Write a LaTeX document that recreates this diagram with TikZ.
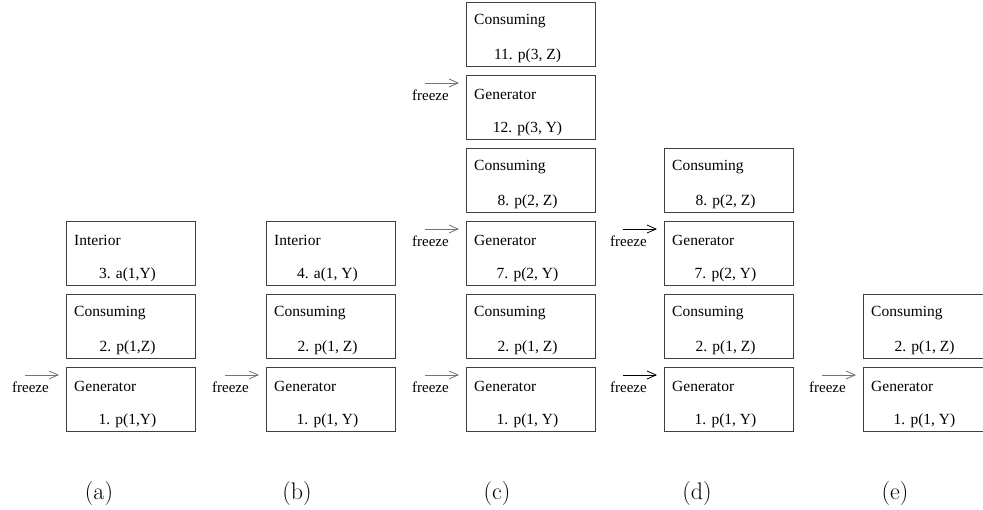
\documentclass[tikz,border=0pt]{standalone}
\usepackage{fontspec}
\newfontfamily\tms{Liberation Serif}
\usetikzlibrary{positioning,arrows.meta}

\tikzset{
	blk/.style={draw=black!75, line width=0.9pt, minimum width=129pt, minimum height=64pt, inner sep=0pt, outer sep=0pt},
	kind/.style={anchor=west, inner sep=0pt, font=\tms\fontsize{15.5}{18}\selectfont},
	lit/.style={inner sep=0pt, font=\tms\fontsize{15.5}{18}\selectfont},
	frz/.style={anchor=east, inner sep=0pt, font=\tms\fontsize{15}{18}\selectfont},
	frzarrow/.style={-{Straight Barb[length=9pt,width=8pt]}, line width=0.8pt},
	sublbl/.style={inner sep=0pt, font=\fontsize{24}{28}\selectfont}
}

% text of one block: name, kind, literal
\newcommand{\blktext}[3]{
	\node[kind] (#1k) at ([xshift=8pt,yshift=-19pt]#1.north west) {#2};
	\node[lit] (#1l) at ([xshift=-3pt,yshift=10pt]#1.south) {#3};
}
% freeze arrow in front of a block: name, colour
\newcommand{\frzin}[2]{
	\node[frz] (#1f) at ([xshift=-17pt,yshift=-20pt]#1.north west) {freeze};
	\coordinate (#1s) at ([xshift=-41pt,yshift=-8pt]#1.north west);
	\coordinate (#1t) at ([xshift=-7pt,yshift=-8pt]#1.north west);
	\draw[frzarrow, #2] (#1s) -- (#1t);
}

\begin{document}
\begin{tikzpicture}[x=1pt,y=-1pt]
		\useasboundingbox (0,0) rectangle (983,509);
		
		% (a)
		\node[blk, anchor=north west] (ga) at (66,367) {};
		\node[blk, above=9pt of ga] (ca) {};
		\node[blk, above=9pt of ca] (ia) {};
		\blktext{ga}{Generator}{1. p(1,Y)}
		\blktext{ca}{Consuming}{2. p(1,Z)}
		\blktext{ia}{Interior}{3. a(1,Y)}
		\frzin{ga}{black!55}
		\node[sublbl] (la) at ([xshift=33pt,yshift=-63pt]ga.south west) {(a)};
		
		% (b)
		\node[blk, anchor=north west] (gb) at (266,367) {};
		\node[blk, above=9pt of gb] (cb) {};
		\node[blk, above=9pt of cb] (ib) {};
		\blktext{gb}{Generator}{1. p(1, Y)}
		\blktext{cb}{Consuming}{2. p(1, Z)}
		\blktext{ib}{Interior}{4. a(1, Y)}
		\frzin{gb}{black!55}
		\node[sublbl] (lb) at ([xshift=31pt,yshift=-63pt]gb.south west) {(b)};
		
		% (c)
		\node[blk, anchor=north west] (gc1) at (466,367) {};
		\node[blk, above=9pt of gc1] (cc1) {};
		\node[blk, above=9pt of cc1] (gc2) {};
		\node[blk, above=9pt of gc2] (cc2) {};
		\node[blk, above=9pt of cc2] (gc3) {};
		\node[blk, above=9pt of gc3] (cc3) {};
		\blktext{gc1}{Generator}{1. p(1, Y)}
		\blktext{cc1}{Consuming}{2. p(1, Z)}
		\blktext{gc2}{Generator}{7. p(2, Y)}
		\blktext{cc2}{Consuming}{8. p(2, Z)}
		\blktext{gc3}{Generator}{12. p(3, Y)}
		\blktext{cc3}{Consuming}{11. p(3, Z)}
		\frzin{gc1}{black!55}
		\frzin{gc2}{black!55}
		\frzin{gc3}{black!55}
		\node[sublbl] (lc) at ([xshift=31pt,yshift=-63pt]gc1.south west) {(c)};
		
		% (d)
		\node[blk, anchor=north west] (gd1) at (664,367) {};
		\node[blk, above=9pt of gd1] (cd1) {};
		\node[blk, above=9pt of cd1] (gd2) {};
		\node[blk, above=9pt of gd2] (cd2) {};
		\blktext{gd1}{Generator}{1. p(1, Y)}
		\blktext{cd1}{Consuming}{2. p(1, Z)}
		\blktext{gd2}{Generator}{7. p(2, Y)}
		\blktext{cd2}{Consuming}{8. p(2, Z)}
		\frzin{gd1}{black}
		\frzin{gd2}{black}
		\node[sublbl] (ld) at ([xshift=33pt,yshift=-63pt]gd1.south west) {(d)};
		
		% (e)
		\node[blk, anchor=north west] (ge) at (863,367) {};
		\node[blk, above=9pt of ge] (ce) {};
		\blktext{ge}{Generator}{1. p(1, Y)}
		\blktext{ce}{Consuming}{2. p(1, Z)}
		\frzin{ge}{black!55}
		\node[sublbl] (le) at ([xshift=32pt,yshift=-63pt]ge.south west) {(e)};
		
		\end{tikzpicture}
\end{document}
